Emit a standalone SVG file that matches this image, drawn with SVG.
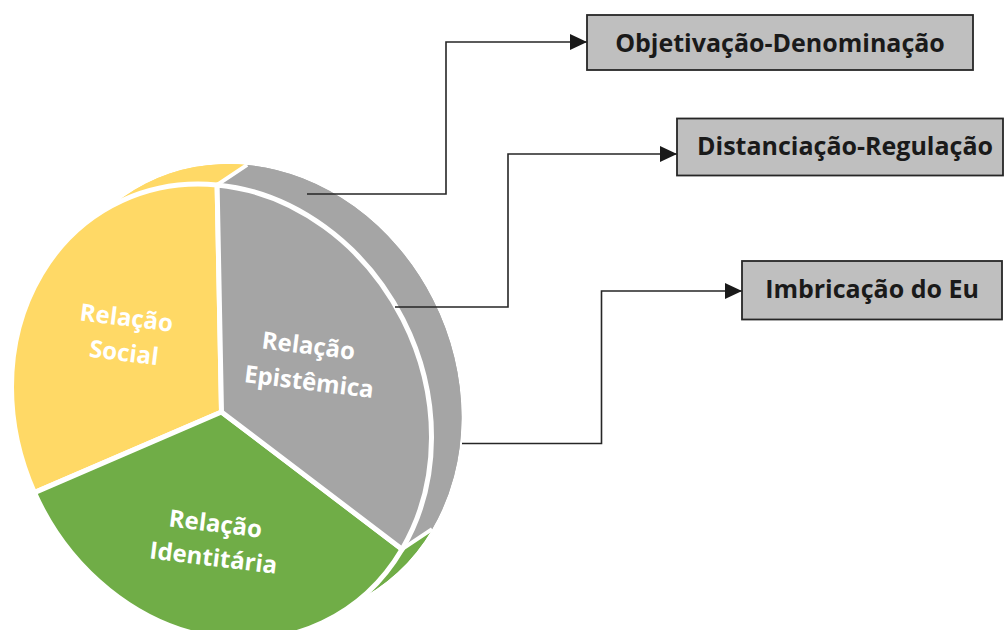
<svg xmlns="http://www.w3.org/2000/svg" width="1004" height="630" viewBox="0 0 1004 630">
  <defs>
    <marker id="arrow" markerUnits="userSpaceOnUse" markerWidth="17" markerHeight="16" refX="17" refY="8" orient="auto">
      <path d="M0,0 L17,8 L0,16 Z" fill="#1a1a1a"/>
    </marker>
    <style>
      .lbl { font-family: "Open Sans", "Liberation Sans", sans-serif; font-weight: bold; font-size: 24px; fill: #ffffff; text-anchor: middle; }
      .box { fill: #bfbfbf; stroke: #262626; stroke-width: 1.8; }
      .boxtxt { font-family: "Open Sans", "Liberation Sans", sans-serif; font-weight: bold; font-size: 25px; fill: #1a1a1a; text-anchor: middle; }
      .conn { fill: none; stroke: #262626; stroke-width: 1.6; marker-end: url(#arrow); }
      .front { stroke: #ffffff; stroke-width: 5; stroke-linejoin: round; vector-effect: non-scaling-stroke; }
      .sep { stroke: #ffffff; stroke-width: 4; fill: none; vector-effect: non-scaling-stroke; }
      .yel { fill: #ffd966; }
      .gry { fill: #a5a5a5; }
      .grn { fill: #70ad47; }
    </style>
  </defs>

  <rect width="1004" height="630" fill="#ffffff"/>

  <!-- pie: extruded sides and back faces -->
  <g id="pie-depth" transform="matrix(210,25,0,226.6,221.5,412)">
    <path class="grn" d="M0.14286,-0.10402 L1.00274,0.40652 A1,1 0 0 1 -0.74815,0.34997 Z"/>
    <path class="grn" d="M0.85988,0.51054 A1,1 0 0 1 -0.89101,0.45399 L-0.74815,0.34997 A1,1 0 0 0 1.00274,0.40652 Z"/>
    <path class="yel" d="M0.14286,-0.10402 L-0.74815,0.34997 A1,1 0 0 1 0.12192,-1.10380 Z"/>
    <path class="yel" d="M-0.89101,0.45399 A1,1 0 0 1 -0.02094,-0.99978 L0.12192,-1.10380 A1,1 0 0 0 -0.74815,0.34997 Z"/>
    <path class="gry" d="M0.14286,-0.10402 L0.12192,-1.10380 A1,1 0 0 1 1.00274,0.40652 Z"/>
    <path class="gry" d="M-0.02094,-0.99978 A1,1 0 0 1 0.85988,0.51054 L1.00274,0.40652 A1,1 0 0 0 0.12192,-1.10380 Z"/>
    <path class="sep" d="M-0.02094,-0.99978 L0.12192,-1.10380 M0.85988,0.51054 L1.00274,0.40652"/>
  </g>

  <g id="slice-social">
    <path class="yel front" transform="matrix(210,25,0,226.6,221.5,412)" d="M0,0 L-0.89101,0.45399 A1,1 0 0 1 -0.02094,-0.99978 Z"/>
    <text class="lbl" transform="translate(125.5,326) rotate(7)">Relação</text>
    <text class="lbl" transform="translate(123,361) rotate(7)">Social</text>
  </g>

  <g id="slice-identitaria">
    <path class="grn front" transform="matrix(210,25,0,226.6,221.5,412)" d="M0,0 L0.85988,0.51054 A1,1 0 0 1 -0.89101,0.45399 Z"/>
    <text class="lbl" transform="translate(214.5,532) rotate(7)">Relação</text>
    <text class="lbl" transform="translate(212.5,566) rotate(7)">Identitária</text>
  </g>

  <g id="slice-epistemica">
    <path class="gry front" transform="matrix(210,25,0,226.6,221.5,412)" d="M0,0 L-0.02094,-0.99978 A1,1 0 0 1 0.85988,0.51054 Z"/>
    <text class="lbl" transform="translate(307.5,354) rotate(7)">Relação</text>
    <text class="lbl" transform="translate(308,390) rotate(7)">Epistêmica</text>
  </g>

  <g id="connectors">
    <path class="conn" d="M307,194 H446 V42 H587"/>
    <path class="conn" d="M395,307 H508 V154 H677"/>
    <path class="conn" d="M462,443.5 H601.5 V291 H742"/>
  </g>

  <g id="box-objetivacao">
    <rect class="box" x="587" y="15" width="386" height="55"/>
    <text class="boxtxt" x="780" y="51.5">Objetivação-Denominação</text>
  </g>

  <g id="box-distanciacao">
    <rect class="box" x="677" y="118.5" width="326" height="57"/>
    <text class="boxtxt" x="845" y="155">Distanciação-Regulação</text>
  </g>

  <g id="box-imbricacao">
    <rect class="box" x="742" y="261" width="260" height="58.5"/>
    <text class="boxtxt" x="872" y="298">Imbricação do Eu</text>
  </g>
</svg>
